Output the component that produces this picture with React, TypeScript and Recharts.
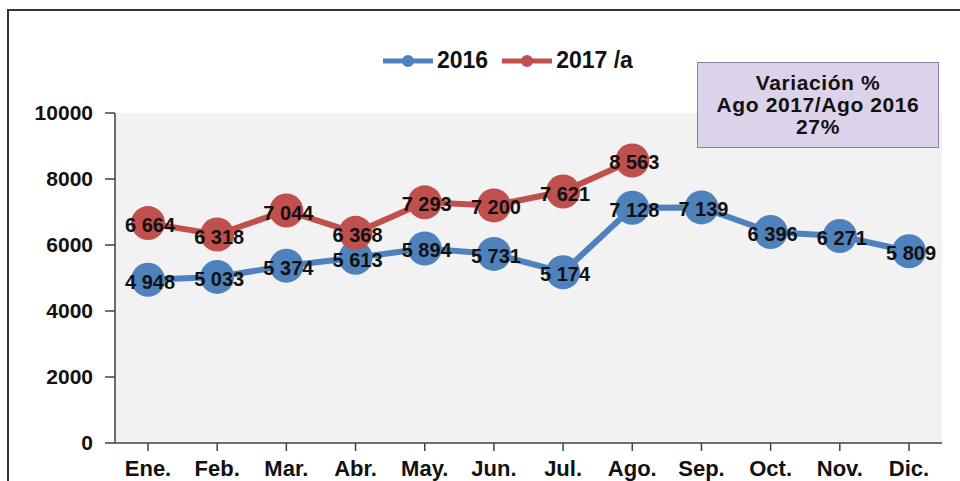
import { LineChart, Line, XAxis, YAxis, CartesianGrid, LabelList } from "recharts";

const meses = ["Ene.", "Feb.", "Mar.", "Abr.", "May.", "Jun.", "Jul.", "Ago.", "Sep.", "Oct.", "Nov.", "Dic."];
const valores2016 = [4948, 5033, 5374, 5613, 5894, 5731, 5174, 7128, 7139, 6396, 6271, 5809];
const valores2017 = [6664, 6318, 7044, 6368, 7293, 7200, 7621, 8563];
const yTicks = [0, 2000, 4000, 6000, 8000, 10000];

const series = [
  { key: "v2016", name: "2016", color: "#4f81bd" },
  { key: "v2017", name: "2017 /a", color: "#c0504d" },
];

const data = meses.map((mes, i) => ({
  mes,
  v2016: valores2016[i],
  v2017: valores2017[i] ?? null,
}));

const font = "'Liberation Sans', Arial, sans-serif";

// "4948" -> "4 948"
const fmt = (v: number) => `${Math.floor(v / 1000)} ${String(v % 1000).padStart(3, "0")}`;

const renderValue = (props: any) => {
  const { x, y, value } = props;
  if (value == null) return null;
  return (
    <text
      x={x + 2}
      y={y + 2}
      textAnchor="middle"
      dominantBaseline="central"
      fontFamily={font}
      fontSize={20}
      fontWeight="bold"
      fill="#111"
    >
      {fmt(value)}
    </text>
  );
};

function Leyenda() {
  return (
    <div style={{ position: "absolute", left: 383, top: 47, display: "flex", alignItems: "center", gap: 14, fontWeight: "bold", fontSize: 23, color: "#111" }}>
      {series.map((s) => (
        <div key={s.key} style={{ display: "flex", alignItems: "center" }}>
          <svg width={50} height={14}>
            <line x1={0} y1={7} x2={50} y2={7} stroke={s.color} strokeWidth={5} />
            <circle cx={25} cy={7} r={6} fill={s.color} />
          </svg>
          <span style={{ marginLeft: 4 }}>{s.name}</span>
        </div>
      ))}
    </div>
  );
}

export default function App() {
  return (
    <div style={{ position: "absolute", left: 0, top: 0, width: 960, height: 481, overflow: "hidden", background: "#fff", fontFamily: font }}>
      <div style={{ position: "absolute", left: 7, top: 9, width: 1000, height: 1000, border: "2px solid #333" }} />
      <div style={{ position: "absolute", left: 0, top: 0 }}>
        <LineChart width={960} height={498} data={data} margin={{ top: 113, right: 18, left: 0, bottom: 0 }}>
          <CartesianGrid fill="#f2f2f2" horizontal={false} vertical={false} />
          <XAxis
            dataKey="mes"
            interval={0}
            padding={{ left: 33, right: 33 }}
            height={55}
            tickSize={8}
            tickMargin={9}
            axisLine={{ stroke: "#404040", strokeWidth: 1.5 }}
            tickLine={{ stroke: "#404040", strokeWidth: 1.5 }}
            tick={{ fontSize: 22, fontWeight: "bold", fill: "#111", fontFamily: font }}
          />
          <YAxis
            domain={[0, 10000]}
            ticks={yTicks}
            width={115}
            tickSize={10}
            tickMargin={12}
            axisLine={{ stroke: "#404040", strokeWidth: 1.5 }}
            tickLine={{ stroke: "#404040", strokeWidth: 1.5 }}
            tick={{ fontSize: 21, fontWeight: "bold", fill: "#111", fontFamily: font }}
          />
          {series.map((s) => (
            <Line
              key={s.key}
              dataKey={s.key}
              name={s.name}
              stroke={s.color}
              strokeWidth={6}
              dot={{ r: 17, fill: s.color, stroke: "none" }}
              activeDot={false}
              isAnimationActive={false}
            >
              <LabelList dataKey={s.key} content={renderValue} />
            </Line>
          ))}
        </LineChart>
      </div>
      <Leyenda />
      <div
        style={{
          position: "absolute",
          left: 697,
          top: 62,
          width: 240,
          height: 84,
          background: "#dcd3ea",
          border: "1.5px solid #8a7fa6",
          display: "flex",
          flexDirection: "column",
          justifyContent: "center",
          alignItems: "center",
          fontWeight: "bold",
          fontSize: 21,
          lineHeight: "22px",
          letterSpacing: 0.6,
          color: "#111",
        }}
      >
        <div>Variación %</div>
        <div>Ago 2017/Ago 2016</div>
        <div>27%</div>
      </div>
    </div>
  );
}
